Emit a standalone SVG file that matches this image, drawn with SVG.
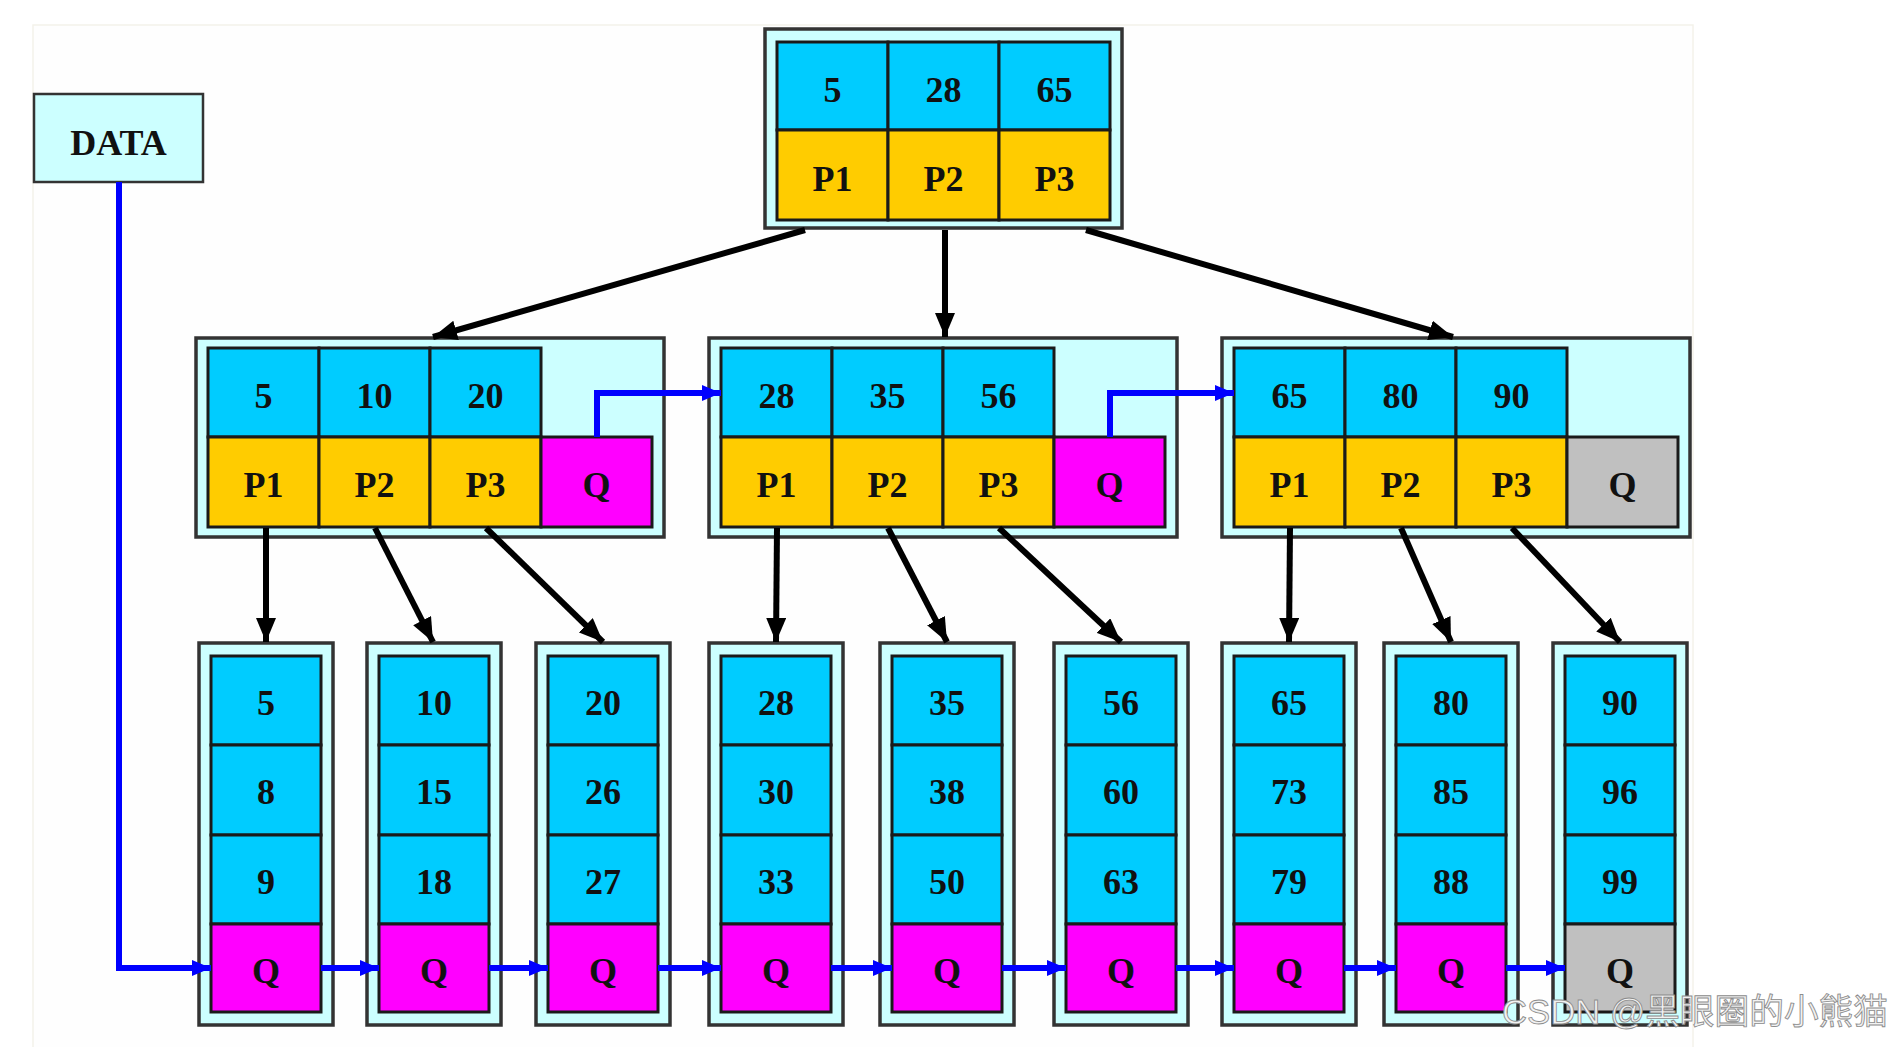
<svg xmlns="http://www.w3.org/2000/svg" width="1898" height="1047" viewBox="0 0 1898 1047">
<style>
.outer{fill:#ccffff;stroke:#333;stroke-width:3.5}
.key{fill:#00ccff;stroke:#1a1a1a;stroke-width:3}
.ptr{fill:#ffcc00;stroke:#1a1a1a;stroke-width:3}
.q{fill:#ff00ff;stroke:#1a1a1a;stroke-width:3}
.qn{fill:#c0c0c0;stroke:#1a1a1a;stroke-width:3}
.t{font-family:"Liberation Serif","Times New Roman",serif;font-weight:bold;font-size:36px;text-anchor:middle;fill:#111}
.blk{fill:none;stroke:#000;stroke-width:6;marker-end:url(#ah)}
.blu{fill:none;stroke:#0000ff;stroke-width:6;marker-end:url(#bh)}
.wm{font-family:"Liberation Sans","Noto Sans CJK SC",sans-serif;font-size:35px;fill:#f2f2f2;stroke:#8c8c8c;stroke-width:0.9}
</style>
<defs>
<marker id="ah" markerUnits="userSpaceOnUse" markerWidth="24" markerHeight="20" refX="24" refY="10" orient="auto"><path d="M0,0 L24,10 L0,20 z" fill="#000"/></marker>
<marker id="bh" markerUnits="userSpaceOnUse" markerWidth="19" markerHeight="16" refX="19" refY="8" orient="auto"><path d="M0,0 L19,8 L0,16 z" fill="#0000ff"/></marker>
</defs>
<rect x="0" y="0" width="1898" height="1047" fill="#ffffff"/>
<rect x="33" y="25" width="1660" height="1030" fill="#fefefe" stroke="#f4f2ea" stroke-width="1.5"/>

<g id="data">
<rect x="34" y="94" width="169" height="88" fill="#ccffff" stroke="#333" stroke-width="2.5"/>
<text class="t" x="118.5" y="155" font-size="33">DATA</text>
</g>

<g id="root">
<rect class="outer" x="765" y="29" width="357" height="199"/>
<rect class="key" x="777" y="42" width="111" height="88"/>
<rect class="key" x="888" y="42" width="111" height="88"/>
<rect class="key" x="999" y="42" width="111" height="88"/>
<rect class="ptr" x="777" y="130" width="111" height="90"/>
<rect class="ptr" x="888" y="130" width="111" height="90"/>
<rect class="ptr" x="999" y="130" width="111" height="90"/>
<text class="t" x="832.5" y="102">5</text>
<text class="t" x="943.5" y="102">28</text>
<text class="t" x="1054.5" y="102">65</text>
<text class="t" x="832.5" y="191">P1</text>
<text class="t" x="943.5" y="191">P2</text>
<text class="t" x="1054.5" y="191">P3</text>
</g>

<g id="mid1">
<rect class="outer" x="196" y="338" width="468" height="199"/>
<rect class="key" x="208" y="348" width="111" height="89"/>
<rect class="key" x="319" y="348" width="111" height="89"/>
<rect class="key" x="430" y="348" width="111" height="89"/>
<rect class="ptr" x="208" y="437" width="111" height="90"/>
<rect class="ptr" x="319" y="437" width="111" height="90"/>
<rect class="ptr" x="430" y="437" width="111" height="90"/>
<rect class="q" x="541" y="437" width="111" height="90"/>
<text class="t" x="263.5" y="408">5</text>
<text class="t" x="374.5" y="408">10</text>
<text class="t" x="485.5" y="408">20</text>
<text class="t" x="263.5" y="497">P1</text>
<text class="t" x="374.5" y="497">P2</text>
<text class="t" x="485.5" y="497">P3</text>
<text class="t" x="596.5" y="497">Q</text>
</g>

<g id="mid2">
<rect class="outer" x="709" y="338" width="468" height="199"/>
<rect class="key" x="721" y="348" width="111" height="89"/>
<rect class="key" x="832" y="348" width="111" height="89"/>
<rect class="key" x="943" y="348" width="111" height="89"/>
<rect class="ptr" x="721" y="437" width="111" height="90"/>
<rect class="ptr" x="832" y="437" width="111" height="90"/>
<rect class="ptr" x="943" y="437" width="111" height="90"/>
<rect class="q" x="1054" y="437" width="111" height="90"/>
<text class="t" x="776.5" y="408">28</text>
<text class="t" x="887.5" y="408">35</text>
<text class="t" x="998.5" y="408">56</text>
<text class="t" x="776.5" y="497">P1</text>
<text class="t" x="887.5" y="497">P2</text>
<text class="t" x="998.5" y="497">P3</text>
<text class="t" x="1109.5" y="497">Q</text>
</g>

<g id="mid3">
<rect class="outer" x="1222" y="338" width="468" height="199"/>
<rect class="key" x="1234" y="348" width="111" height="89"/>
<rect class="key" x="1345" y="348" width="111" height="89"/>
<rect class="key" x="1456" y="348" width="111" height="89"/>
<rect class="ptr" x="1234" y="437" width="111" height="90"/>
<rect class="ptr" x="1345" y="437" width="111" height="90"/>
<rect class="ptr" x="1456" y="437" width="111" height="90"/>
<rect class="qn" x="1567" y="437" width="111" height="90"/>
<text class="t" x="1289.5" y="408">65</text>
<text class="t" x="1400.5" y="408">80</text>
<text class="t" x="1511.5" y="408">90</text>
<text class="t" x="1289.5" y="497">P1</text>
<text class="t" x="1400.5" y="497">P2</text>
<text class="t" x="1511.5" y="497">P3</text>
<text class="t" x="1622.5" y="497">Q</text>
</g>

<g id="leaf1">
<rect class="outer" x="199" y="643" width="134" height="382"/>
<rect class="key" x="211" y="656" width="110" height="89"/>
<rect class="key" x="211" y="745" width="110" height="90"/>
<rect class="key" x="211" y="835" width="110" height="89"/>
<rect class="q" x="211" y="924" width="110" height="88"/>
<text class="t" x="266" y="715">5</text><text class="t" x="266" y="804">8</text><text class="t" x="266" y="894">9</text><text class="t" x="266" y="983">Q</text>
</g>
<g id="leaf2">
<rect class="outer" x="367" y="643" width="134" height="382"/>
<rect class="key" x="379" y="656" width="110" height="89"/>
<rect class="key" x="379" y="745" width="110" height="90"/>
<rect class="key" x="379" y="835" width="110" height="89"/>
<rect class="q" x="379" y="924" width="110" height="88"/>
<text class="t" x="434" y="715">10</text><text class="t" x="434" y="804">15</text><text class="t" x="434" y="894">18</text><text class="t" x="434" y="983">Q</text>
</g>
<g id="leaf3">
<rect class="outer" x="536" y="643" width="134" height="382"/>
<rect class="key" x="548" y="656" width="110" height="89"/>
<rect class="key" x="548" y="745" width="110" height="90"/>
<rect class="key" x="548" y="835" width="110" height="89"/>
<rect class="q" x="548" y="924" width="110" height="88"/>
<text class="t" x="603" y="715">20</text><text class="t" x="603" y="804">26</text><text class="t" x="603" y="894">27</text><text class="t" x="603" y="983">Q</text>
</g>
<g id="leaf4">
<rect class="outer" x="709" y="643" width="134" height="382"/>
<rect class="key" x="721" y="656" width="110" height="89"/>
<rect class="key" x="721" y="745" width="110" height="90"/>
<rect class="key" x="721" y="835" width="110" height="89"/>
<rect class="q" x="721" y="924" width="110" height="88"/>
<text class="t" x="776" y="715">28</text><text class="t" x="776" y="804">30</text><text class="t" x="776" y="894">33</text><text class="t" x="776" y="983">Q</text>
</g>
<g id="leaf5">
<rect class="outer" x="880" y="643" width="134" height="382"/>
<rect class="key" x="892" y="656" width="110" height="89"/>
<rect class="key" x="892" y="745" width="110" height="90"/>
<rect class="key" x="892" y="835" width="110" height="89"/>
<rect class="q" x="892" y="924" width="110" height="88"/>
<text class="t" x="947" y="715">35</text><text class="t" x="947" y="804">38</text><text class="t" x="947" y="894">50</text><text class="t" x="947" y="983">Q</text>
</g>
<g id="leaf6">
<rect class="outer" x="1054" y="643" width="134" height="382"/>
<rect class="key" x="1066" y="656" width="110" height="89"/>
<rect class="key" x="1066" y="745" width="110" height="90"/>
<rect class="key" x="1066" y="835" width="110" height="89"/>
<rect class="q" x="1066" y="924" width="110" height="88"/>
<text class="t" x="1121" y="715">56</text><text class="t" x="1121" y="804">60</text><text class="t" x="1121" y="894">63</text><text class="t" x="1121" y="983">Q</text>
</g>
<g id="leaf7">
<rect class="outer" x="1222" y="643" width="134" height="382"/>
<rect class="key" x="1234" y="656" width="110" height="89"/>
<rect class="key" x="1234" y="745" width="110" height="90"/>
<rect class="key" x="1234" y="835" width="110" height="89"/>
<rect class="q" x="1234" y="924" width="110" height="88"/>
<text class="t" x="1289" y="715">65</text><text class="t" x="1289" y="804">73</text><text class="t" x="1289" y="894">79</text><text class="t" x="1289" y="983">Q</text>
</g>
<g id="leaf8">
<rect class="outer" x="1384" y="643" width="134" height="382"/>
<rect class="key" x="1396" y="656" width="110" height="89"/>
<rect class="key" x="1396" y="745" width="110" height="90"/>
<rect class="key" x="1396" y="835" width="110" height="89"/>
<rect class="q" x="1396" y="924" width="110" height="88"/>
<text class="t" x="1451" y="715">80</text><text class="t" x="1451" y="804">85</text><text class="t" x="1451" y="894">88</text><text class="t" x="1451" y="983">Q</text>
</g>
<g id="leaf9">
<rect class="outer" x="1553" y="643" width="134" height="382"/>
<rect class="key" x="1565" y="656" width="110" height="89"/>
<rect class="key" x="1565" y="745" width="110" height="90"/>
<rect class="key" x="1565" y="835" width="110" height="89"/>
<rect class="qn" x="1565" y="924" width="110" height="88"/>
<text class="t" x="1620" y="715">90</text><text class="t" x="1620" y="804">96</text><text class="t" x="1620" y="894">99</text><text class="t" x="1620" y="983">Q</text>
</g>

<g id="connectors">
<path class="blk" d="M805,230 L433,337"/>
<path class="blk" d="M945,230 L945,337"/>
<path class="blk" d="M1086,230 L1453,337"/>
<path class="blk" d="M266,528 L266,642"/>
<path class="blk" d="M375,528 L433,642"/>
<path class="blk" d="M486,528 L603,642"/>
<path class="blk" d="M777,528 L776,642"/>
<path class="blk" d="M888,528 L947,642"/>
<path class="blk" d="M999,528 L1121,642"/>
<path class="blk" d="M1290,528 L1289,642"/>
<path class="blk" d="M1401,528 L1451,642"/>
<path class="blk" d="M1512,528 L1620,642"/>
<path class="blu" d="M119,182 V968 H211"/>
<path class="blu" d="M321,968 H379"/>
<path class="blu" d="M489,968 H548"/>
<path class="blu" d="M658,968 H721"/>
<path class="blu" d="M831,968 H892"/>
<path class="blu" d="M1002,968 H1066"/>
<path class="blu" d="M1176,968 H1234"/>
<path class="blu" d="M1344,968 H1396"/>
<path class="blu" d="M1506,968 H1565"/>
<path class="blu" d="M597,437 V393 H721"/>
<path class="blu" d="M1110,437 V393 H1234"/>
</g>

<text class="wm" x="1502" y="1024" textLength="386" lengthAdjust="spacingAndGlyphs">CSDN @黑眼圈的小熊猫</text>
</svg>
